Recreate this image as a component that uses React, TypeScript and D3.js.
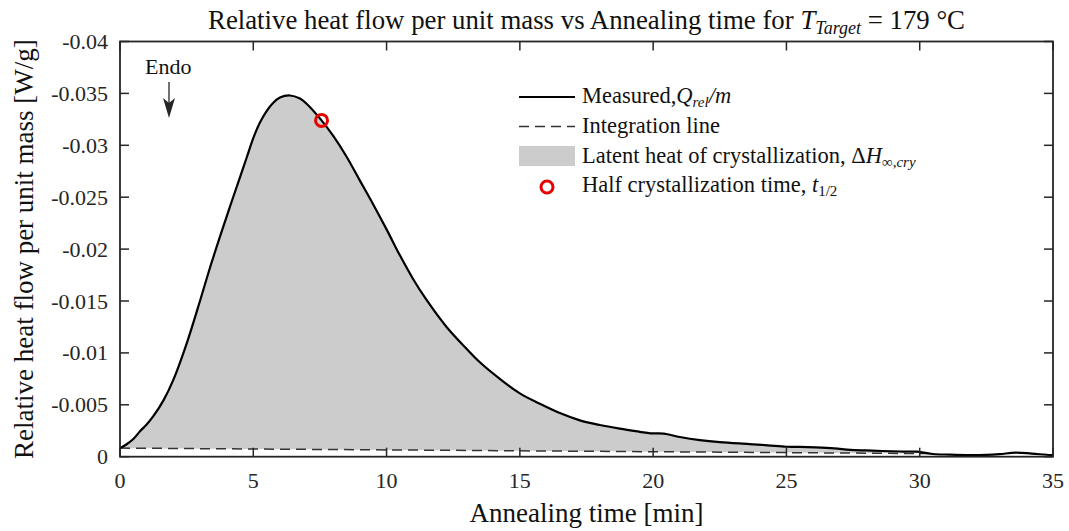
import React from "react";
import * as d3 from "d3";

const timeMin = [0, 0.25, 0.5, 0.75, 1.0, 1.25, 1.625, 2.0, 2.5, 3.0, 3.375, 3.75, 4.125, 4.5, 4.75, 5.0, 5.25, 5.5, 5.75, 6.0, 6.375, 6.75, 7.0, 7.56, 8.0, 8.5, 9.0, 9.5, 10.0, 10.5, 11.0, 11.5, 12.25, 13.0, 13.5, 14.25, 15, 15.75, 16.5, 17.25, 18, 18.75, 19.5, 19.9, 20.4, 21, 21.75, 22.5, 23.6, 24.3, 25, 25.5, 26.1, 26.8, 27.4, 28, 28.6, 29.3, 29.9, 30.5, 31.1, 31.75, 32.5, 33, 33.6, 34.2, 34.9, 35];
const heatFlow = [-0.00081, -0.0012, -0.0017, -0.00245, -0.0031, -0.0039, -0.0054, -0.0074, -0.0109, -0.0150, -0.0182, -0.0212, -0.0241, -0.0269, -0.0288, -0.0307, -0.0322, -0.0333, -0.0341, -0.0346, -0.0348, -0.0345, -0.0340, -0.0324, -0.0309, -0.0289, -0.0266, -0.0243, -0.0219, -0.0194, -0.0171, -0.0151, -0.0125, -0.0104, -0.0091, -0.0075, -0.0061, -0.0051, -0.0042, -0.0035, -0.00305, -0.0027, -0.0024, -0.00225, -0.00222, -0.0019, -0.0016, -0.0014, -0.00122, -0.0011, -0.00096, -0.00095, -0.0009, -0.0008, -0.00065, -0.0006, -0.00055, -0.0005, -0.00048, -0.00026, -0.0002, -0.00016, -0.00018, -0.00025, -0.00039, -0.0003, -0.00016, -0.00018];

const integTime = [0, 30.3];
const integValue = [-0.00083, -0.0003];

const halfTime = [7.56];
const halfValue = [-0.0324];

const xTicks = [0, 5, 10, 15, 20, 25, 30, 35];
const yTicks = [0, -0.005, -0.01, -0.015, -0.02, -0.025, -0.03, -0.035, -0.04];
const yTickLabels = ["0", "-0.005", "-0.01", "-0.015", "-0.02", "-0.025", "-0.03", "-0.035", "-0.04"];

const FONT = "'Liberation Serif', 'Times New Roman', serif";
const AX = "#262626";

export default function App() {
  const W = 1069, H = 531;
  const left = 120, right = 1053, top = 41.5, bottom = 456.7;
  const x = d3.scaleLinear().domain([0, 35]).range([left, right]);
  const y = d3.scaleLinear().domain([0, -0.04]).range([bottom, top]);

  const pts: [number, number][] = timeMin.map((t, i) => [t, heatFlow[i]]);
  const curve = d3.curveCatmullRom.alpha(0.5);
  const line = d3.line<[number, number]>().x(d => x(d[0])).y(d => y(d[1])).curve(curve);
  const base = d3.scaleLinear().domain(integTime).range(integValue);
  const fillEnd = integTime[1];
  const fillPts = pts.filter(p => p[0] <= fillEnd);
  const area = d3.area<[number, number]>()
    .x(d => x(d[0]))
    .y0(d => y(base(d[0])))
    .y1(d => y(d[1]))
    .curve(curve);
  const integPts: [number, number][] = integTime.map((t, i) => [t, integValue[i]]);
  const tickLen = 9;

  const legX0 = 519, legX1 = 575, legTX = 582;
  const rows = [103, 133, 162.5, 192];

  return (
    <svg width={W} height={H} style={{ position: "absolute", left: 0, top: 0 }} fontFamily={FONT}>
      <rect x={0} y={0} width={W} height={H} fill="#fff" />
      <path d={area(fillPts) || ""} fill="#cccccc" />
      <path d={d3.line<[number, number]>().x(d => x(d[0])).y(d => y(d[1]))(integPts) || ""} fill="none" stroke="#333" strokeWidth={1.5} strokeDasharray="10,6" />
      <path d={line(pts) || ""} fill="none" stroke="#000" strokeWidth={2.2} strokeLinejoin="round" />
      {halfTime.map((t, i) => (
        <circle key={i} cx={x(t)} cy={y(halfValue[i])} r={6} fill="none" stroke="#e60000" strokeWidth={3} />
      ))}

      {/* frame */}
      <rect x={left} y={top} width={right - left} height={bottom - top} fill="none" stroke={AX} strokeWidth={1.8} />
      {xTicks.map(t => (
        <g key={"x" + t}>
          <line x1={x(t)} x2={x(t)} y1={bottom} y2={bottom - tickLen} stroke={AX} strokeWidth={1.5} />
          <line x1={x(t)} x2={x(t)} y1={top} y2={top + tickLen} stroke={AX} strokeWidth={1.5} />
          <text x={x(t)} y={488} textAnchor="middle" fontSize={22} fill={AX}>{t}</text>
        </g>
      ))}
      {yTicks.map((v, i) => (
        <g key={"y" + i}>
          <line x1={left} x2={left + tickLen} y1={y(v)} y2={y(v)} stroke={AX} strokeWidth={1.5} />
          <line x1={right} x2={right - tickLen} y1={y(v)} y2={y(v)} stroke={AX} strokeWidth={1.5} />
          <text x={108} y={y(v) + 7.5} textAnchor="end" fontSize={22} fill={AX}>{yTickLabels[i]}</text>
        </g>
      ))}

      {/* title */}
      <text x={(left + right) / 2} y={29} textAnchor="middle" fontSize={26.8} fill="#111">
        Relative heat flow per unit mass vs Annealing time for <tspan fontStyle="italic">T</tspan>
        <tspan fontStyle="italic" fontSize={18} dy={5}>Target</tspan>
        <tspan dy={-5}> = 179 °C</tspan>
      </text>

      {/* axis labels */}
      <text x={(left + right) / 2} y={522} textAnchor="middle" fontSize={27} fill="#111">Annealing time [min]</text>
      <text transform={`translate(33, ${(top + bottom) / 2}) rotate(-90)`} textAnchor="middle" fontSize={27} fill="#111">
        Relative heat flow per unit mass [W/g]
      </text>

      {/* Endo */}
      <text x={145} y={74} fontSize={22} fill="#111">Endo</text>
      <line x1={169} x2={169} y1={82} y2={104} stroke={AX} strokeWidth={1.3} />
      <path d="M163,98 L169,118 L175,98 L169,103 Z" fill={AX} />

      {/* legend */}
      <line x1={legX0} x2={legX1} y1={97} y2={97} stroke="#000" strokeWidth={2.2} />
      <text x={legTX} y={rows[0]} fontSize={22.5} fill="#111">
        Measured,<tspan fontStyle="italic">Q</tspan>
        <tspan fontStyle="italic" fontSize={15} dy={4}>rel</tspan>
        <tspan fontStyle="italic" dy={-4}>/m</tspan>
      </text>
      <line x1={legX0} x2={legX1} y1={126.5} y2={126.5} stroke="#333" strokeWidth={1.5} strokeDasharray="10,6" />
      <text x={legTX} y={rows[1]} fontSize={22.5} fill="#111">Integration line</text>
      <rect x={legX0} y={146} width={legX1 - legX0} height={20} fill="#cccccc" />
      <text x={legTX} y={rows[2]} fontSize={22.5} fill="#111">
        Latent heat of crystallization, Δ<tspan fontStyle="italic">H</tspan>
        <tspan fontSize={15} dy={4}>∞</tspan>
        <tspan fontSize={15} fontStyle="italic">,cry</tspan>
      </text>
      <circle cx={547} cy={187} r={6} fill="none" stroke="#e60000" strokeWidth={3} />
      <text x={legTX} y={rows[3]} fontSize={22.5} fill="#111">
        Half crystallization time, <tspan fontStyle="italic">t</tspan>
        <tspan fontSize={15} dy={4}>1/2</tspan>
      </text>
    </svg>
  );
}
